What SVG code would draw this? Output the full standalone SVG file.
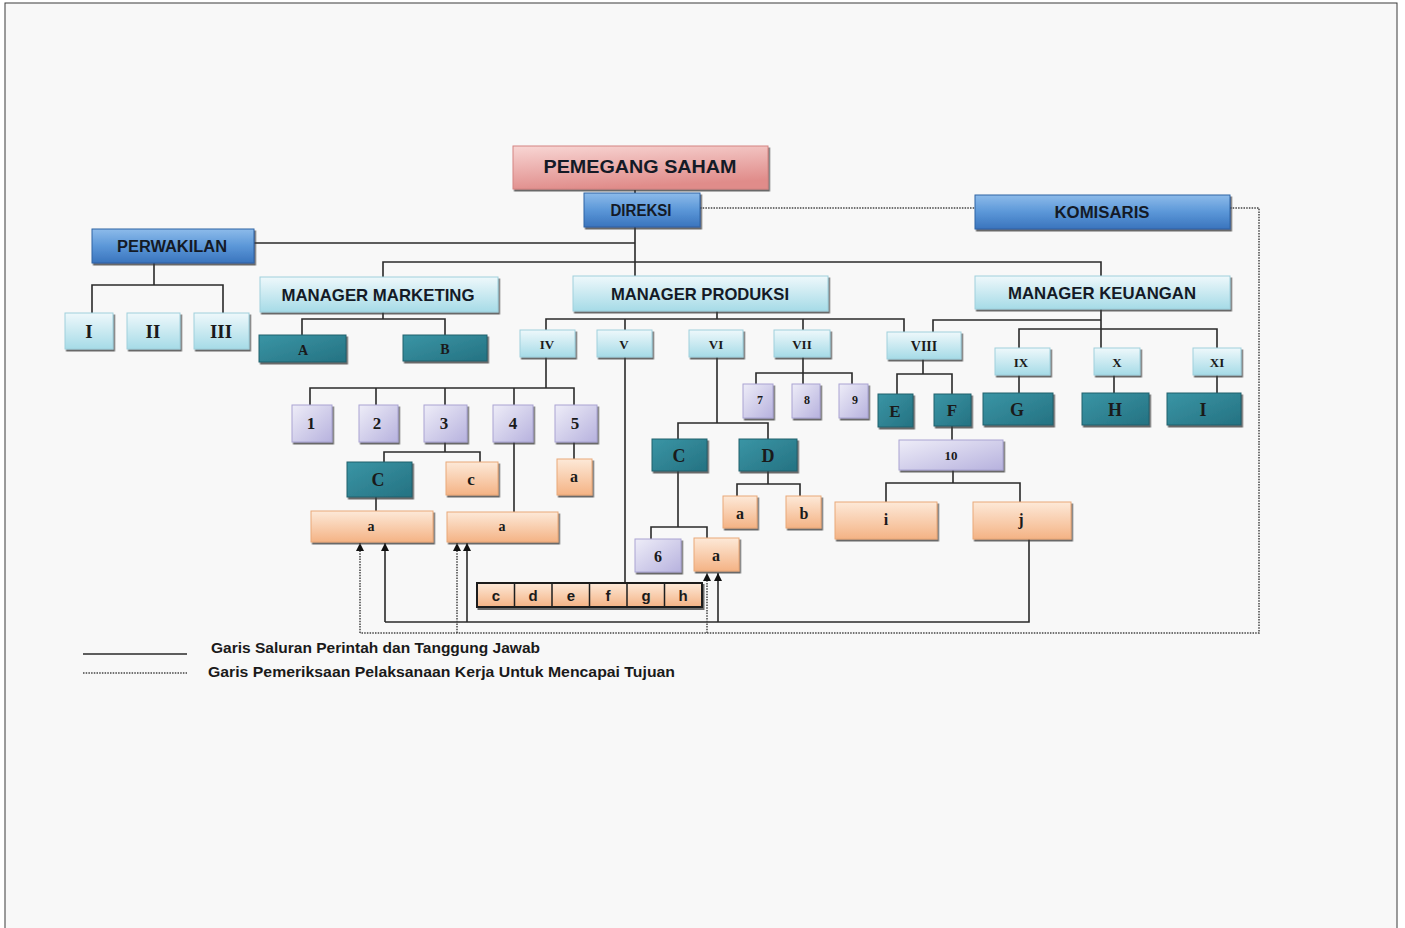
<svg xmlns="http://www.w3.org/2000/svg" width="1405" height="928" viewBox="0 0 1405 928">
<defs>
<linearGradient id="gPink" x1="0" y1="0" x2="0.3" y2="1"><stop offset="0" stop-color="#f8d6d4"/><stop offset="1" stop-color="#e08c8a"/></linearGradient>
<linearGradient id="gBlue" x1="0" y1="0" x2="0" y2="1"><stop offset="0" stop-color="#8dbbea"/><stop offset="0.5" stop-color="#5b97d8"/><stop offset="1" stop-color="#3a74bd"/></linearGradient>
<linearGradient id="gCyan" x1="0" y1="0" x2="0" y2="1"><stop offset="0" stop-color="#eef8fb"/><stop offset="1" stop-color="#a6dbe7"/></linearGradient>
<linearGradient id="gTeal" x1="0" y1="0" x2="1" y2="1"><stop offset="0" stop-color="#3a95a5"/><stop offset="1" stop-color="#257282"/></linearGradient>
<linearGradient id="gLav" x1="0" y1="0" x2="1" y2="1"><stop offset="0" stop-color="#eeedf8"/><stop offset="1" stop-color="#b7b2de"/></linearGradient>
<linearGradient id="gPeach" x1="0" y1="0" x2="0" y2="1"><stop offset="0" stop-color="#fde9d8"/><stop offset="1" stop-color="#f4b385"/></linearGradient>
<filter id="sh" x="-10%" y="-10%" width="130%" height="140%"><feDropShadow dx="1.5" dy="2" stdDeviation="0.6" flood-color="#3a3a3a" flood-opacity="0.75"/></filter>
<marker id="arr" viewBox="0 0 8 8" refX="8" refY="4" markerWidth="8" markerHeight="8" markerUnits="userSpaceOnUse" orient="auto"><path d="M0,0 L8,4 L0,8 z" fill="#111"/></marker>
<style>
.pink{fill:url(#gPink);stroke:#d48482;stroke-width:1;filter:url(#sh)}
.blue{fill:url(#gBlue);stroke:#2f63a3;stroke-width:1;filter:url(#sh)}
.cyan{fill:url(#gCyan);stroke:#9fd0dc;stroke-width:1;filter:url(#sh)}
.teal{fill:url(#gTeal);stroke:#20606d;stroke-width:1;filter:url(#sh)}
.lav{fill:url(#gLav);stroke:#a9a4d2;stroke-width:1;filter:url(#sh)}
.peach{fill:url(#gPeach);stroke:#e9a878;stroke-width:1;filter:url(#sh)}
.hd{font-family:"Liberation Sans",Arial,sans-serif;font-weight:bold;fill:#141a26;text-anchor:middle}
.sf{font-family:"Liberation Serif","Times New Roman",serif;font-weight:bold;fill:#1a1a1a;text-anchor:middle}
.sn{font-family:"Liberation Sans",Arial,sans-serif;font-weight:bold;fill:#1a1a1a;text-anchor:middle;font-size:15px}
.ln{fill:none;stroke:#2a2a2a;stroke-width:1.6}
.dt{fill:none;stroke:#444;stroke-width:1.5;stroke-dasharray:1.5 1.2}
.lg{font-family:"Liberation Sans",Arial,sans-serif;font-weight:bold;font-size:15px;fill:#1a1a1a}
</style>
</defs>
<rect x="0" y="0" width="1405" height="928" fill="#ffffff"/>
<rect x="5" y="3" width="1392" height="930" fill="#f8f8f8" stroke="#3a3a3a" stroke-width="1"/>

<g id="connectors">
<path class="ln" d="M635 190 V193 M635 227 V276 M254 243 H635 M383 277 V262 H1101 V276"/>
<path class="ln" d="M154 263 V285 M92 313 V285 H223 V313"/>
<path class="ln" d="M383 312 V319 M302 335 V319 H445 V335"/>
<path class="ln" d="M717 311 V319 M546 330 V319 H904 V332 M625 319 V330 M803 319 V330"/>
<path class="ln" d="M1101 309 V348 M933 332 V320 H1101 M1019 348 V329 H1217 V348"/>
<path class="ln" d="M1019 374 V393 M1114 374 V393 M1217 374 V393"/>
<path class="ln" d="M546 357 V388 M310 405 V388 H574 V405 M376 388 V405 M445 388 V405 M514 388 V405"/>
<path class="ln" d="M445 442 V452 M384 462 V452 H480 V462 M574 442 V459 M376 497 V511 M514 442 V512"/>
<path class="ln" d="M625 357 V583"/>
<path class="ln" d="M717 357 V423 M678 439 V423 H768 V439 M678 471 V527 M651 539 V527 H707 V538 M768 471 V484 M737 496 V484 H800 V496"/>
<path class="ln" d="M803 357 V373 M756 384 V373 H852 V384 M803 373 V384"/>
<path class="ln" d="M923 359 V374 M897 394 V374 H952 V394 M952 426 V440 M953 470 V483 M886 502 V483 H1020 V502"/>
<path class="ln" d="M1029 539 V622 H385"/>
<line class="ln" x1="385" y1="622" x2="385" y2="543" marker-end="url(#arr)"/>
<line class="ln" x1="467" y1="622" x2="467" y2="543" marker-end="url(#arr)"/>
<line class="ln" x1="718" y1="622" x2="718" y2="573" marker-end="url(#arr)"/>
<path class="dt" d="M700 208 H975 M1230 208 H1259 V633 H360"/>
<line class="dt" x1="360" y1="633" x2="360" y2="543" marker-end="url(#arr)"/>
<line class="dt" x1="457" y1="633" x2="457" y2="543" marker-end="url(#arr)"/>
<line class="dt" x1="707" y1="633" x2="707" y2="573" marker-end="url(#arr)"/>
</g>

<g id="pemegang-saham"><rect class="pink" x="513" y="146" width="255" height="43"/><text class="hd" x="640" y="173" font-size="19" textLength="193" lengthAdjust="spacingAndGlyphs">PEMEGANG SAHAM</text></g>
<g id="direksi"><rect class="blue" x="584" y="193" width="116" height="34"/><text class="hd" x="641" y="216" font-size="16" textLength="61" lengthAdjust="spacingAndGlyphs">DIREKSI</text></g>
<g id="komisaris"><rect class="blue" x="975" y="195" width="255" height="34"/><text class="hd" x="1102" y="218" font-size="16" textLength="95" lengthAdjust="spacingAndGlyphs">KOMISARIS</text></g>
<g id="perwakilan"><rect class="blue" x="92" y="229" width="162" height="34"/><text class="hd" x="172" y="252" font-size="16" textLength="110" lengthAdjust="spacingAndGlyphs">PERWAKILAN</text></g>
<g id="manager-marketing"><rect class="cyan" x="260" y="277" width="238" height="35"/><text class="hd" x="378" y="301" font-size="17" textLength="193" lengthAdjust="spacingAndGlyphs">MANAGER MARKETING</text></g>
<g id="manager-produksi"><rect class="cyan" x="573" y="276" width="255" height="35"/><text class="hd" x="700" y="300" font-size="17" textLength="178" lengthAdjust="spacingAndGlyphs">MANAGER PRODUKSI</text></g>
<g id="manager-keuangan"><rect class="cyan" x="975" y="276" width="255" height="33"/><text class="hd" x="1102" y="299" font-size="17" textLength="188" lengthAdjust="spacingAndGlyphs">MANAGER KEUANGAN</text></g>

<g id="p-I"><rect class="cyan" x="65" y="313" width="48" height="36"/><text class="sf" x="89" y="338" font-size="19">I</text></g>
<g id="p-II"><rect class="cyan" x="127" y="313" width="53" height="36"/><text class="sf" x="153" y="338" font-size="19">II</text></g>
<g id="p-III"><rect class="cyan" x="194" y="313" width="55" height="36"/><text class="sf" x="221" y="338" font-size="19">III</text></g>

<g id="mm-A"><rect class="teal" x="259" y="335" width="87" height="27"/><text class="sf" x="303" y="355" font-size="14">A</text></g>
<g id="mm-B"><rect class="teal" x="403" y="335" width="84" height="26"/><text class="sf" x="445" y="354" font-size="14">B</text></g>

<g id="r-IV"><rect class="cyan" x="520" y="330" width="55" height="27"/><text class="sf" x="547" y="349" font-size="13">IV</text></g>
<g id="r-V"><rect class="cyan" x="597" y="330" width="55" height="27"/><text class="sf" x="624" y="349" font-size="13">V</text></g>
<g id="r-VI"><rect class="cyan" x="689" y="330" width="54" height="27"/><text class="sf" x="716" y="349" font-size="13">VI</text></g>
<g id="r-VII"><rect class="cyan" x="774" y="330" width="56" height="27"/><text class="sf" x="802" y="349" font-size="13">VII</text></g>
<g id="r-VIII"><rect class="cyan" x="887" y="332" width="74" height="27"/><text class="sf" x="924" y="351" font-size="14">VIII</text></g>
<g id="r-IX"><rect class="cyan" x="995" y="348" width="55" height="27"/><text class="sf" x="1021" y="367" font-size="13">IX</text></g>
<g id="r-X"><rect class="cyan" x="1094" y="348" width="46" height="27"/><text class="sf" x="1117" y="367" font-size="13">X</text></g>
<g id="r-XI"><rect class="cyan" x="1193" y="348" width="48" height="27"/><text class="sf" x="1217" y="367" font-size="13">XI</text></g>

<g id="k-G"><rect class="teal" x="983" y="393" width="70" height="32"/><text class="sf" x="1017" y="416" font-size="18">G</text></g>
<g id="k-H"><rect class="teal" x="1082" y="393" width="67" height="32"/><text class="sf" x="1115" y="416" font-size="18">H</text></g>
<g id="k-I"><rect class="teal" x="1167" y="393" width="74" height="32"/><text class="sf" x="1203" y="416" font-size="18">I</text></g>

<g id="n-1"><rect class="lav" x="292" y="405" width="40" height="37"/><text class="sf" x="311" y="429" font-size="17">1</text></g>
<g id="n-2"><rect class="lav" x="359" y="405" width="39" height="37"/><text class="sf" x="377" y="429" font-size="17">2</text></g>
<g id="n-3"><rect class="lav" x="424" y="405" width="43" height="37"/><text class="sf" x="444" y="429" font-size="17">3</text></g>
<g id="n-4"><rect class="lav" x="493" y="405" width="40" height="37"/><text class="sf" x="513" y="429" font-size="17">4</text></g>
<g id="n-5"><rect class="lav" x="555" y="405" width="42" height="37"/><text class="sf" x="575" y="429" font-size="17">5</text></g>

<g id="m-C"><rect class="teal" x="347" y="462" width="65" height="35"/><text class="sf" x="378" y="486" font-size="18">C</text></g>
<g id="m-c"><rect class="peach" x="446" y="462" width="52" height="33"/><text class="sf" x="471" y="485" font-size="17">c</text></g>
<g id="m-a5"><rect class="peach" x="557" y="459" width="35" height="36"/><text class="sf" x="574" y="482" font-size="16">a</text></g>
<g id="m-a1"><rect class="peach" x="311" y="511" width="122" height="31"/><text class="sf" x="371" y="531" font-size="14">a</text></g>
<g id="m-a2"><rect class="peach" x="447" y="512" width="111" height="30"/><text class="sf" x="502" y="531" font-size="14">a</text></g>

<g id="v-bar">
<rect x="477" y="583" width="225" height="24" fill="url(#gPeach)" stroke="#1e1e1e" stroke-width="2" filter="url(#sh)"/>
<path d="M514.5 583 V607 M552 583 V607 M589.5 583 V607 M627 583 V607 M664.5 583 V607" stroke="#1e1e1e" stroke-width="1.5"/>
<text class="sn" x="496" y="601">c</text><text class="sn" x="533" y="601">d</text><text class="sn" x="571" y="601">e</text><text class="sn" x="608" y="601">f</text><text class="sn" x="646" y="601">g</text><text class="sn" x="683" y="601">h</text>
</g>

<g id="vi-C"><rect class="teal" x="652" y="439" width="55" height="32"/><text class="sf" x="679" y="462" font-size="18">C</text></g>
<g id="vi-D"><rect class="teal" x="739" y="439" width="58" height="32"/><text class="sf" x="768" y="462" font-size="18">D</text></g>
<g id="vi-6"><rect class="lav" x="635" y="539" width="46" height="33"/><text class="sf" x="658" y="562" font-size="16">6</text></g>
<g id="vi-a"><rect class="peach" x="694" y="538" width="45" height="33"/><text class="sf" x="716" y="561" font-size="16">a</text></g>
<g id="vi-Da"><rect class="peach" x="723" y="496" width="34" height="32"/><text class="sf" x="740" y="519" font-size="16">a</text></g>
<g id="vi-Db"><rect class="peach" x="786" y="496" width="35" height="32"/><text class="sf" x="804" y="519" font-size="16">b</text></g>

<g id="vii-7"><rect class="lav" x="743" y="384" width="30" height="34"/><text class="sf" x="760" y="404" font-size="12">7</text></g>
<g id="vii-8"><rect class="lav" x="792" y="384" width="28" height="34"/><text class="sf" x="807" y="404" font-size="12">8</text></g>
<g id="vii-9"><rect class="lav" x="839" y="384" width="29" height="34"/><text class="sf" x="855" y="404" font-size="12">9</text></g>

<g id="viii-E"><rect class="teal" x="878" y="394" width="35" height="33"/><text class="sf" x="895" y="417" font-size="17">E</text></g>
<g id="viii-F"><rect class="teal" x="934" y="394" width="37" height="32"/><text class="sf" x="952" y="416" font-size="17">F</text></g>
<g id="viii-10"><rect class="lav" x="899" y="440" width="104" height="30"/><text class="sf" x="951" y="460" font-size="13">10</text></g>
<g id="viii-i"><rect class="peach" x="835" y="502" width="102" height="37"/><text class="sf" x="886" y="525" font-size="16">i</text></g>
<g id="viii-j"><rect class="peach" x="973" y="502" width="98" height="37"/><text class="sf" x="1021" y="525" font-size="16">j</text></g>

<g id="legend">
<line x1="83" y1="654" x2="187" y2="654" stroke="#2a2a2a" stroke-width="1.3"/>
<line x1="83" y1="673" x2="187" y2="673" stroke="#444" stroke-width="1.3" stroke-dasharray="1.5 1.2"/>
<text class="lg" x="211" y="653" textLength="329" lengthAdjust="spacingAndGlyphs">Garis Saluran Perintah dan Tanggung Jawab</text>
<text class="lg" x="208" y="677" textLength="467" lengthAdjust="spacingAndGlyphs">Garis Pemeriksaan Pelaksanaan Kerja Untuk Mencapai Tujuan</text>
</g>
</svg>
